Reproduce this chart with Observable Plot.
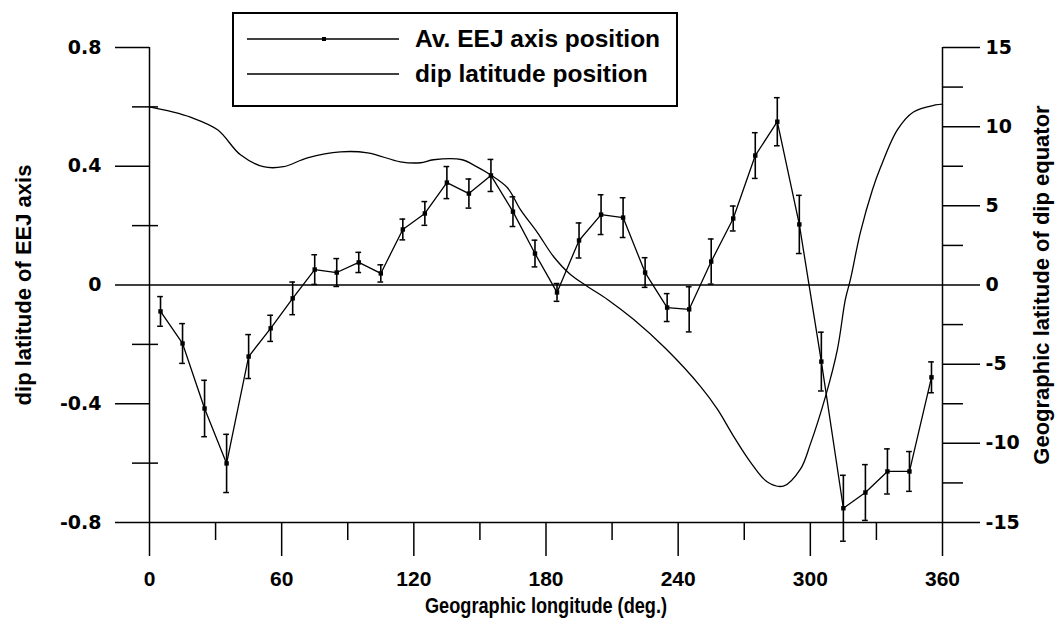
<!DOCTYPE html>
<html>
<head>
<meta charset="utf-8">
<script src="https://cdn.jsdelivr.net/npm/d3@7"></script>
<script src="https://cdn.jsdelivr.net/npm/@observablehq/plot@0.6"></script>
<style>
  body { margin: 0; background: #fff; }
  #wrap { position: relative; width: 1061px; height: 630px; overflow: hidden; }
  #legend { position: absolute; left: 232px; top: 12px; width: 446px; height: 95px;
            border: 2px solid #000; box-sizing: border-box; background: #fff;
            font-family: "Liberation Sans", Arial, sans-serif; font-weight: bold; font-size: 24.5px; }
  .lg-row { position: absolute; left: 0; height: 30px; width: 100%; }
  .lg-row svg { position: absolute; left: 13px; top: 0; }
  .lg-row span { position: absolute; left: 181px; top: 0px; line-height: 26px; white-space: nowrap; }
</style>
</head>
<body>
<div id="wrap">
  <div id="chart"></div>
  <div id="legend">
    <div class="lg-row" style="top:12px">
      <svg width="155" height="30"><line x1="0" x2="152" y1="13" y2="13" stroke="#000" stroke-width="1.5"/><rect x="75" y="11" width="4" height="4" fill="#000"/></svg>
      <span id="lg1"></span>
    </div>
    <div class="lg-row" style="top:47px">
      <svg width="155" height="30"><line x1="0" x2="152" y1="13" y2="13" stroke="#000" stroke-width="1.5"/></svg>
      <span id="lg2"></span>
    </div>
  </div>
</div>
<script>
// ---- data ----
const seriesNames = ["Av. EEJ axis position", "dip latitude position"];
const xTitle = "Geographic longitude (deg.)";
const yTitleLeft = "dip latitude of EEJ axis";
const yTitleRight = "Geographic latitude of dip equator";

const longitudes = [5,15,25,35,45,55,65,75,85,95,105,115,125,135,145,155,165,175,185,195,205,215,225,235,245,255,265,275,285,295,305,315,325,335,345,355];
const eejAxis = [-0.089,-0.197,-0.416,-0.601,-0.241,-0.146,-0.045,0.052,0.042,0.076,0.039,0.187,0.241,0.345,0.308,0.369,0.247,0.106,-0.025,0.150,0.237,0.227,0.042,-0.076,-0.082,0.079,0.224,0.436,0.550,0.204,-0.258,-0.752,-0.699,-0.628,-0.628,-0.311];
const eejError = [0.050,0.067,0.095,0.098,0.074,0.044,0.055,0.050,0.047,0.034,0.029,0.035,0.040,0.054,0.049,0.054,0.050,0.045,0.030,0.059,0.067,0.067,0.050,0.047,0.076,0.076,0.042,0.077,0.081,0.098,0.099,0.111,0.094,0.076,0.067,0.052];

const dipLon = [0,10,18.6,30.9,41.3,51.7,60.8,71.7,86.7,99,113.9,123,128.9,142,147,154.8,162.5,168.4,176.1,183.4,191.1,198.8,207.9,219.7,234.2,250.1,257.8,265.1,272.8,280.5,287.8,295.5,300,306.9,312.3,315.9,318.2,322.7,328.2,331.8,339.5,346.8,356.8,360];
const dipLat = [11.25,10.95,10.6,9.8,8.22,7.47,7.47,8.03,8.41,8.35,7.78,7.72,7.91,7.91,7.59,6.96,6.14,4.76,3.31,1.80,0.66,-0.09,-0.91,-2.17,-4.0,-6.4,-7.84,-9.54,-11.18,-12.44,-12.7,-11.63,-10.05,-7.03,-4.06,-0.91,0.35,3.31,6.02,7.4,9.8,10.93,11.37,11.43];

const xTicks = [0,60,120,180,240,300,360];
const xMinorTicks = [30,90,150,210,270,330];
const leftTicks = [-0.8,-0.4,0,0.4,0.8];
const leftMinorTicks = [-0.6,-0.2,0.2,0.6];
const rightTicks = [-15,-10,-5,0,5,10,15];
const rightMinorTicks = [-12.5,-7.5,-2.5,2.5,7.5,12.5];

// ---- derived tables ----
const degToLeft = 0.8 / 15;
const eej = longitudes.map((lon, i) => ({lon, v: eejAxis[i], e: eejError[i]}));
const dip = dipLon.map((lon, i) => ({lon, v: dipLat[i] * degToLeft}));
const capHalf = 1.3;

document.getElementById("lg1").textContent = seriesNames[0];
document.getElementById("lg2").textContent = seriesNames[1];

const fmt = d => String(d);
const yTickFont = "'DejaVu Sans', sans-serif";
const xTickFont = "'Liberation Sans', Arial, sans-serif";

const chart = Plot.plot({
  width: 1061,
  height: 630,
  marginLeft: 149,
  marginRight: 119,
  marginTop: 47,
  marginBottom: 108,
  x: {domain: [0, 360]},
  y: {domain: [-0.8, 0.8]},
  style: {background: "#fff", color: "#000", fontFamily: "'Liberation Sans', Arial, sans-serif", overflow: "visible"},
  marks: [
    Plot.ruleY([0], {stroke: "#000", strokeWidth: 1.5}),
    Plot.ruleY([-0.8], {stroke: "#000", strokeWidth: 1.5}),
    Plot.ruleX([0], {stroke: "#000", strokeWidth: 1.5}),
    Plot.ruleX([360], {stroke: "#000", strokeWidth: 1.5}),
    Plot.axisX(xTicks, {anchor: "bottom", tickSize: 34, tickPadding: 15, strokeWidth: 1.5, tickFormat: fmt,
      fontSize: 21, fontWeight: "bold", fontFamily: xTickFont, label: null}),
    Plot.axisX(xMinorTicks, {anchor: "bottom", tickSize: 18, strokeWidth: 1.5, fill: "none", label: null}),
    Plot.axisY(leftTicks, {anchor: "left", tickSize: 34, tickPadding: 14, strokeWidth: 1.5, tickFormat: fmt,
      fontSize: 19, fontWeight: "bold", fontFamily: yTickFont, label: null}),
    Plot.axisY(leftMinorTicks, {anchor: "left", tickSize: 26, insetLeft: 9, strokeWidth: 1.5, fill: "none", label: null}),
    Plot.axisY(rightTicks.map(d => d * degToLeft), {anchor: "right", tickSize: 37, tickPadding: 6, strokeWidth: 1.5,
      tickFormat: v => String(Math.round(v / degToLeft)),
      fontSize: 19, fontWeight: "bold", fontFamily: yTickFont, label: null}),
    Plot.axisY(rightMinorTicks.map(d => d * degToLeft), {anchor: "right", tickSize: 20, strokeWidth: 1.5, fill: "none", label: null}),
    Plot.line(dip, {x: "lon", y: "v", curve: "catmull-rom", stroke: "#000", strokeWidth: 1.3}),
    Plot.ruleX(eej, {x: "lon", y1: d => d.v - d.e, y2: d => d.v + d.e, stroke: "#000", strokeWidth: 1.6}),
    Plot.ruleY(eej, {y: d => d.v + d.e, x1: d => d.lon - capHalf, x2: d => d.lon + capHalf, stroke: "#000", strokeWidth: 1.5}),
    Plot.ruleY(eej, {y: d => d.v - d.e, x1: d => d.lon - capHalf, x2: d => d.lon + capHalf, stroke: "#000", strokeWidth: 1.5}),
    Plot.line(eej, {x: "lon", y: "v", stroke: "#000", strokeWidth: 1.3}),
    Plot.dot(eej, {x: "lon", y: "v", symbol: "square", r: 2.5, fill: "#000", stroke: null}),
    Plot.text([xTitle], {text: d => d, frameAnchor: "bottom", dy: 83, textAnchor: "middle", lineAnchor: "middle",
      fontSize: 22, fontWeight: "bold"}),
    Plot.text([yTitleLeft], {text: d => d, frameAnchor: "left", dx: -126, rotate: -90, textAnchor: "middle", lineAnchor: "middle",
      fontSize: 22, fontWeight: "bold"}),
    Plot.text([yTitleRight], {text: d => d, frameAnchor: "right", dx: 99, rotate: -90, textAnchor: "middle", lineAnchor: "middle",
      fontSize: 22, fontWeight: "bold"})
  ]
});
// condense the x-axis title and tick labels horizontally, as in the original
chart.querySelectorAll("text").forEach(t => {
  if (t.textContent === xTitle) {
    t.setAttribute("textLength", 242);
    t.setAttribute("lengthAdjust", "spacingAndGlyphs");
  }
});
document.getElementById("chart").appendChild(chart);
</script>
</body>
</html>
